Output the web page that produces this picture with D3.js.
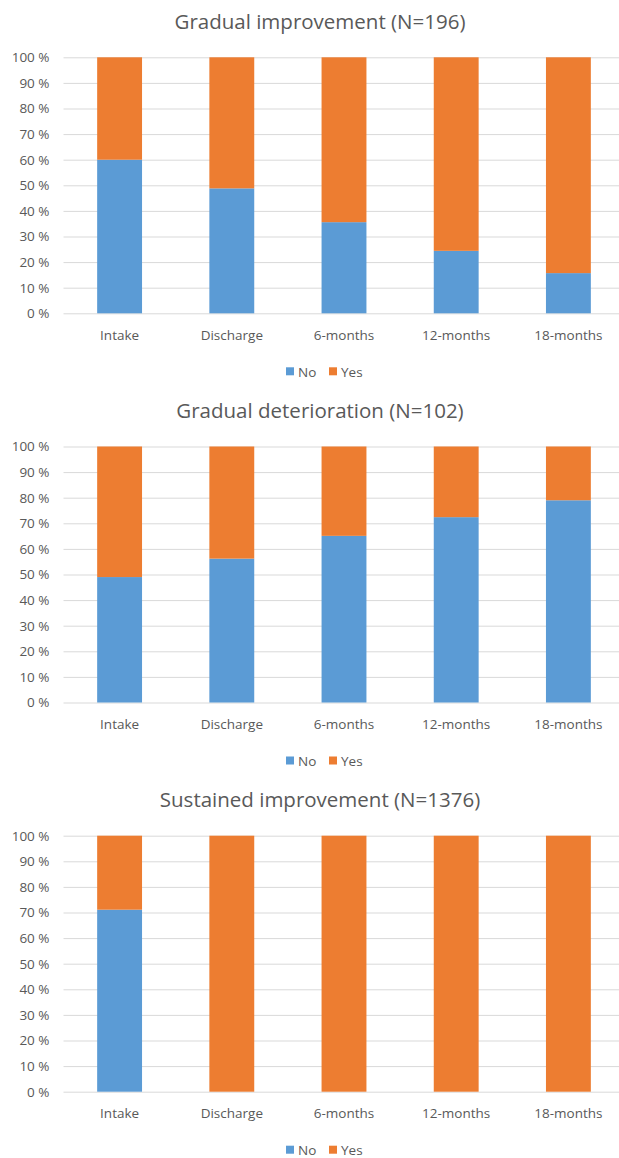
<!DOCTYPE html>
<html>
<head>
<meta charset="utf-8">
<script src="https://cdn.jsdelivr.net/npm/d3@7"></script>
<style>
  html, body { margin: 0; padding: 0; background: #fff; }
  svg { display: block; }
  text { font-family: "Open Sans", sans-serif; fill: #595959; }
</style>
</head>
<body>
<svg id="chart" width="619" height="1158"></svg>
<script>
// Time points shared by all three panels
const timepoints = ["Intake", "Discharge", "6-months", "12-months", "18-months"];
const seriesNames = ["No", "Yes"];
const yTicks = [0, 10, 20, 30, 40, 50, 60, 70, 80, 90, 100];

// Share of "No" answers (%) per trajectory group
const titles = [
  "Gradual improvement (N=196)",
  "Gradual deterioration (N=102)",
  "Sustained improvement (N=1376)"
];
const noGradualImprovement = [60.0, 48.8, 35.6, 24.4, 15.7];
const noGradualDeterioration = [49.0, 56.2, 65.1, 72.4, 79.0];
const noSustainedImprovement = [71.1, 0, 0, 0, 0];
const panelsNo = [noGradualImprovement, noGradualDeterioration, noSustainedImprovement];

const colors = { No: "#5B9BD5", Yes: "#ED7D31" };

const svg = d3.select("#chart");
const panelHeight = 389.2;
const plotTop = 57.3, plotH = 256;
const x = d3.scaleBand()
  .domain(timepoints)
  .range([63.5, 624.5])
  .paddingInner(0.6)
  .paddingOuter(0.3);
const y = d3.scaleLinear().domain([0, 100]).range([plotTop + plotH, plotTop]);

panelsNo.forEach((noVals, i) => {
  const g = svg.append("g").attr("transform", `translate(0,${i * panelHeight})`);

  // Stack No / Yes so each column sums to 100 %
  const rows = timepoints.map((t, j) => ({ t, No: noVals[j], Yes: 100 - noVals[j] }));
  const stacked = d3.stack().keys(seriesNames)(rows);

  // Title
  g.append("text")
    .attr("x", 320).attr("y", 29)
    .attr("text-anchor", "middle")
    .style("font-size", "20.5px")
    .text(titles[i]);

  // Horizontal gridlines + y labels
  const yAxis = d3.axisLeft(y)
    .tickValues(yTicks)
    .tickSize(-(619 - 63.5))
    .tickPadding(14)
    .tickFormat(d => d + " %");
  const ya = g.append("g").attr("transform", "translate(63.5,0)").call(yAxis);
  ya.select(".domain").remove();
  ya.selectAll(".tick line").attr("stroke", "#d9d9d9").attr("stroke-width", 1);
  ya.selectAll(".tick text")
    .style("font-size", "13.5px")
    .style("font-family", "'Open Sans', sans-serif")
    .attr("fill", "#595959");

  // Stacked bars
  g.selectAll("g.series")
    .data(stacked)
    .join("g")
    .attr("class", "series")
    .attr("fill", d => colors[d.key])
    .selectAll("rect")
    .data(d => d)
    .join("rect")
    .attr("x", d => x(d.data.t))
    .attr("width", x.bandwidth())
    .attr("y", d => y(d[1]))
    .attr("height", d => y(d[0]) - y(d[1]));

  // Category axis labels
  const xAxis = d3.axisBottom(x).tickSize(0).tickPadding(17);
  const xa = g.append("g").attr("transform", `translate(0,${plotTop + plotH})`).call(xAxis);
  xa.select(".domain").remove();
  xa.selectAll(".tick text")
    .style("font-size", "13.5px")
    .style("font-family", "'Open Sans', sans-serif")
    .attr("fill", "#595959");

  // Legend
  const legend = g.append("g").attr("transform", `translate(0,${plotTop + plotH + 58.5})`);
  const legendItems = [
    { key: "No", x: 286 },
    { key: "Yes", x: 329 }
  ];
  legendItems.forEach(item => {
    legend.append("rect")
      .attr("x", item.x).attr("y", -4.5)
      .attr("width", 8).attr("height", 8)
      .attr("fill", colors[item.key]);
    legend.append("text")
      .attr("x", item.x + 12).attr("y", 0)
      .attr("dy", "0.35em")
      .style("font-size", "13.5px")
      .text(item.key);
  });
});
</script>
</body>
</html>
